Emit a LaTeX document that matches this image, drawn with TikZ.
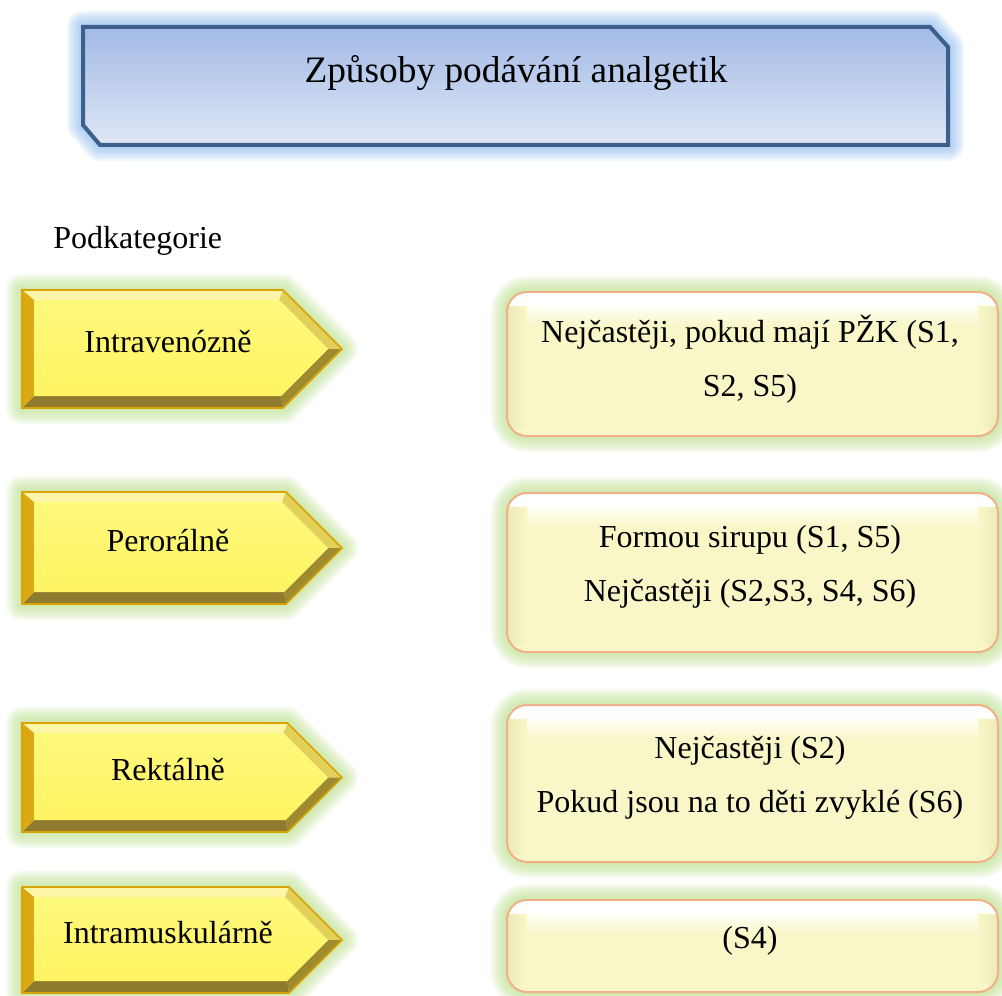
\documentclass[tikz,border=0pt]{standalone}
\usepackage{fontspec}
\setmainfont{Liberation Serif}

% title panel
\definecolor{tTop}{HTML}{A2BAE6}
\definecolor{tBot}{HTML}{DFE7F5}
\definecolor{tBorder}{HTML}{3D5F8C}
\definecolor{glowBlue}{HTML}{8EBCF0}
% yellow arrows
\definecolor{glowGreen}{HTML}{BEE28E}
\definecolor{faceTop}{HTML}{FFF97C}
\definecolor{faceBot}{HTML}{FEF462}
\definecolor{bvTop}{HTML}{FDF6A8}
\definecolor{bvDiagT}{HTML}{E2D05A}
\definecolor{bvDiagB}{HTML}{A08A30}
\definecolor{bvBot}{HTML}{8E7B2E}
\definecolor{bvLeft}{HTML}{DCA814}
\definecolor{arrBorder}{HTML}{D9A400}
% text boxes
\definecolor{boxFill}{HTML}{F9F7C8}
\definecolor{boxSide}{HTML}{EDE9B8}
\definecolor{boxBorder}{HTML}{F0B088}

% soft halo around a path: #1 colour, #2 path
\newcommand\halo[2]{%
  \foreach \k in {1,...,8}{%
    \draw[#1, line width=\k*3pt, opacity=0.13, line join=round] #2;}}

% bevelled yellow arrow: #1 name, #2 top y, #3 bottom y, #4 label
\newcommand\yarrow[4]{%
  \pgfmathsetmacro\arYm{(#2+#3)/2}%
  \pgfmathsetmacro\arXt{342-(\arYm-#2)}%
  \pgfmathsetmacro\arXb{342-(#3-\arYm)}%
  \pgfmathsetmacro\arTi{#2+10}%
  \pgfmathsetmacro\arBi{#3-12}%
  \pgfmathsetmacro\arXit{328-(\arYm-\arTi)}%
  \pgfmathsetmacro\arXib{328-(\arBi-\arYm)}%
  \halo{glowGreen}{(22,#2) -- (\arXt,#2) -- (342,\arYm) -- (\arXb,#3) -- (22,#3) -- cycle}
  \fill[bvTop] (22,#2) -- (\arXt,#2) -- (\arXit,\arTi) -- (34,\arTi) -- cycle;
  \fill[bvDiagT] (\arXt,#2) -- (342,\arYm) -- (328,\arYm) -- (\arXit,\arTi) -- cycle;
  \fill[bvDiagB] (342,\arYm) -- (\arXb,#3) -- (\arXib,\arBi) -- (328,\arYm) -- cycle;
  \fill[bvBot] (\arXb,#3) -- (22,#3) -- (34,\arBi) -- (\arXib,\arBi) -- cycle;
  \fill[bvLeft] (22,#3) -- (22,#2) -- (34,\arTi) -- (34,\arBi) -- cycle;
  \shade[top color=faceTop, bottom color=faceBot]
    (34,\arTi) -- (\arXit,\arTi) -- (328,\arYm) -- (\arXib,\arBi) -- (34,\arBi) -- cycle;
  \draw[arrBorder, line width=1.2pt, line join=miter]
    (22,#2) -- (\arXt,#2) -- (342,\arYm) -- (\arXb,#3) -- (22,#3) -- cycle;
  \node[txt, anchor=base] (#1) at (168,{\arYm+3}) {#4};
}

% rounded pale box: #1 top y, #2 bottom y
\newcommand\pbox[2]{%
  \halo{glowGreen}{[rounded corners=15pt] (507,#1) rectangle (998,#2)}
  \begin{scope}
    \clip[rounded corners=15pt] (507,#1) rectangle (998,#2);
    \fill[boxFill] (507,#1) rectangle (998,#2);
    \fill[white] (507,#1) rectangle (998,{#1+10});
    \shade[top color=white, bottom color=boxFill] (507,{#1+10}) rectangle (998,{#1+34});
    \shade[left color=boxSide, right color=boxFill] (507,{#1+14}) rectangle (527,{#2-8});
    \shade[right color=boxSide, left color=boxFill] (978,{#1+14}) rectangle (998,{#2-8});
  \end{scope}
  \draw[boxBorder, line width=1.5pt, rounded corners=15pt] (507,#1) rectangle (998,#2);
}

\begin{document}
\begin{tikzpicture}[x=0.75pt, y=-0.75pt,
  txt/.style={font=\fontsize{24}{40.5}\selectfont, inner sep=0pt}]
\useasboundingbox (0,0) rectangle (1002,995);
\fill[white] (0,0) rectangle (1002,995);

% heading panel with cut corners
\halo{glowBlue}{(83,27) -- (930,27) -- (948,47) -- (948,145) -- (100,145) -- (83,125) -- cycle}
\shade[top color=tTop, bottom color=tBot]
  (83,27) -- (930,27) -- (948,47) -- (948,145) -- (100,145) -- (83,125) -- cycle;
\draw[tBorder, line width=3pt, line join=miter]
  (83,27) -- (930,27) -- (948,47) -- (948,145) -- (100,145) -- (83,125) -- cycle;
\node[font=\fontsize{28}{34}\selectfont, inner sep=0pt, anchor=base] (title) at (516,83)
  {Způsoby podávání analgetik};

\node[txt, anchor=base west] (sub) at (53,248) {Podkategorie};

% routes of administration
\yarrow{iv}{290}{408}{Intravenózně}
\yarrow{po}{492}{604}{Perorálně}
\yarrow{rec}{723}{832}{Rektálně}
\yarrow{im}{887}{993}{Intramuskulárně}

% notes
\pbox{292}{436}
\node[txt, anchor=base] (n1) at (750,342)
  {\begin{tabular}[t]{@{}c@{}}Nejčastěji, pokud mají PŽK (S1,\\ S2, S5)\end{tabular}};
\pbox{493}{652}
\node[txt, anchor=base] (n2) at (750,547)
  {\begin{tabular}[t]{@{}c@{}}Formou sirupu (S1, S5)\\ Nejčastěji (S2,S3, S4, S6)\end{tabular}};
\pbox{705}{862}
\node[txt, anchor=base] (n3) at (750,758)
  {\begin{tabular}[t]{@{}c@{}}Nejčastěji (S2)\\ Pokud jsou na to děti zvyklé (S6)\end{tabular}};
\pbox{900}{992}
\node[txt, anchor=base] (n4) at (750,948) {(S4)};
\end{tikzpicture}
\end{document}
